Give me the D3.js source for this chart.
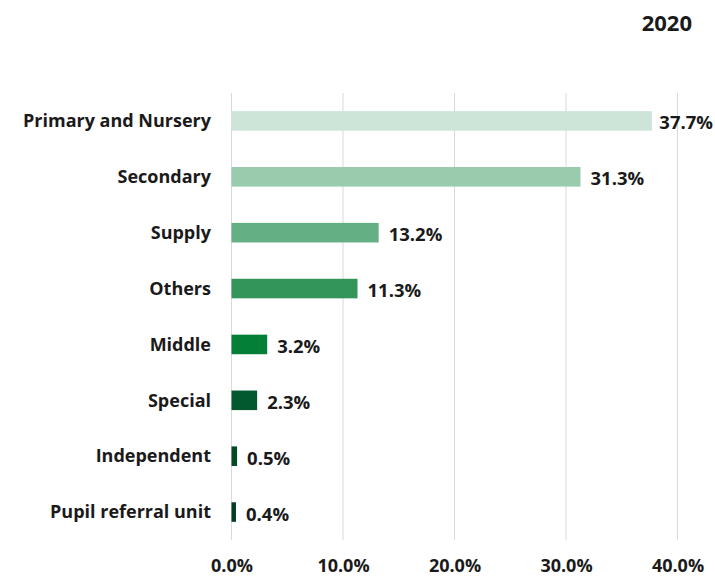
<html>
<script src='https://d3js.org/d3.v7.min.js'></script>
<style>
body {margin: 0; background: white;}
text {font-family: 'Open Sans', 'Noto Sans', sans-serif; font-weight: bold; fill: #1a1a1a;}
</style>
<body>
<svg width=715 height=576></svg>
<script>
// data
var categories = ['Primary and Nursery', 'Secondary', 'Supply', 'Others', 'Middle', 'Special', 'Independent', 'Pupil referral unit']
var values = [37.7, 31.3, 13.2, 11.3, 3.2, 2.3, 0.5, 0.4]
var barColors = ['#cde5d8', '#99cbad', '#64af83', '#34955b', '#037f38', '#03592f', '#044a26', '#043f24']
var xTicks = [0, 10, 20, 30, 40]
var title = '2020'

var svg = d3.select('svg')

var x = d3.scaleLinear()
	.domain([0, 40])
	.range([231.5, 677.5])

var y = d3.scaleBand()
	.domain(categories)
	.range([93, 540])
	.paddingInner(0.65)
	.paddingOuter(0.325)

// gridlines
svg.append('g')
	.selectAll('line')
	.data(xTicks)
	.enter()
	.append('line')
	.attr('x1', function(d) { return x(d) })
	.attr('x2', function(d) { return x(d) })
	.attr('y1', 93)
	.attr('y2', 540)
	.attr('stroke', '#d9d9d9')
	.attr('stroke-width', 1)

// bars
svg.append('g')
	.selectAll('rect')
	.data(values)
	.enter()
	.append('rect')
	.attr('x', x(0))
	.attr('y', function(d, i) { return y(categories[i]) })
	.attr('width', function(d) { return x(d) - x(0) })
	.attr('height', y.bandwidth())
	.attr('fill', function(d, i) { return barColors[i] })

// value labels (pushed back in if they would run off the right edge)
svg.append('g')
	.selectAll('text')
	.data(values)
	.enter()
	.append('text')
	.attr('y', function(d, i) { return y(categories[i]) + y.bandwidth() / 2 + 2 })
	.attr('dy', '0.35em')
	.attr('font-size', 18.5)
	.text(function(d) { return d.toFixed(1) + '%' })
	.attr('x', function(d) {
		var w = this.getComputedTextLength()
		return Math.min(x(d) + 10, 713 - w)
	})

// category labels
svg.append('g')
	.selectAll('text')
	.data(categories)
	.enter()
	.append('text')
	.attr('x', 211)
	.attr('y', function(d) { return y(d) + y.bandwidth() / 2 })
	.attr('dy', '0.35em')
	.attr('text-anchor', 'end')
	.attr('font-size', 18)
	.text(function(d) { return d })

// x axis
var xAxis = svg.append('g')
	.attr('transform', 'translate(0,540)')
	.call(d3.axisBottom(x).tickValues(xTicks).tickSize(0).tickPadding(19)
		.tickFormat(function(d) { return d.toFixed(1) + '%' }))
xAxis.select('.domain').remove()
xAxis.selectAll('text')
	.attr('font-size', 18)
	.style('font-family', "'Open Sans', 'Noto Sans', sans-serif")
	.style('font-weight', 'bold')
	.attr('fill', '#1a1a1a')

// title
svg.append('text')
	.attr('x', 692)
	.attr('y', 31)
	.attr('text-anchor', 'end')
	.attr('font-size', 22)
	.text(title)
</script>
</body>
</html>
